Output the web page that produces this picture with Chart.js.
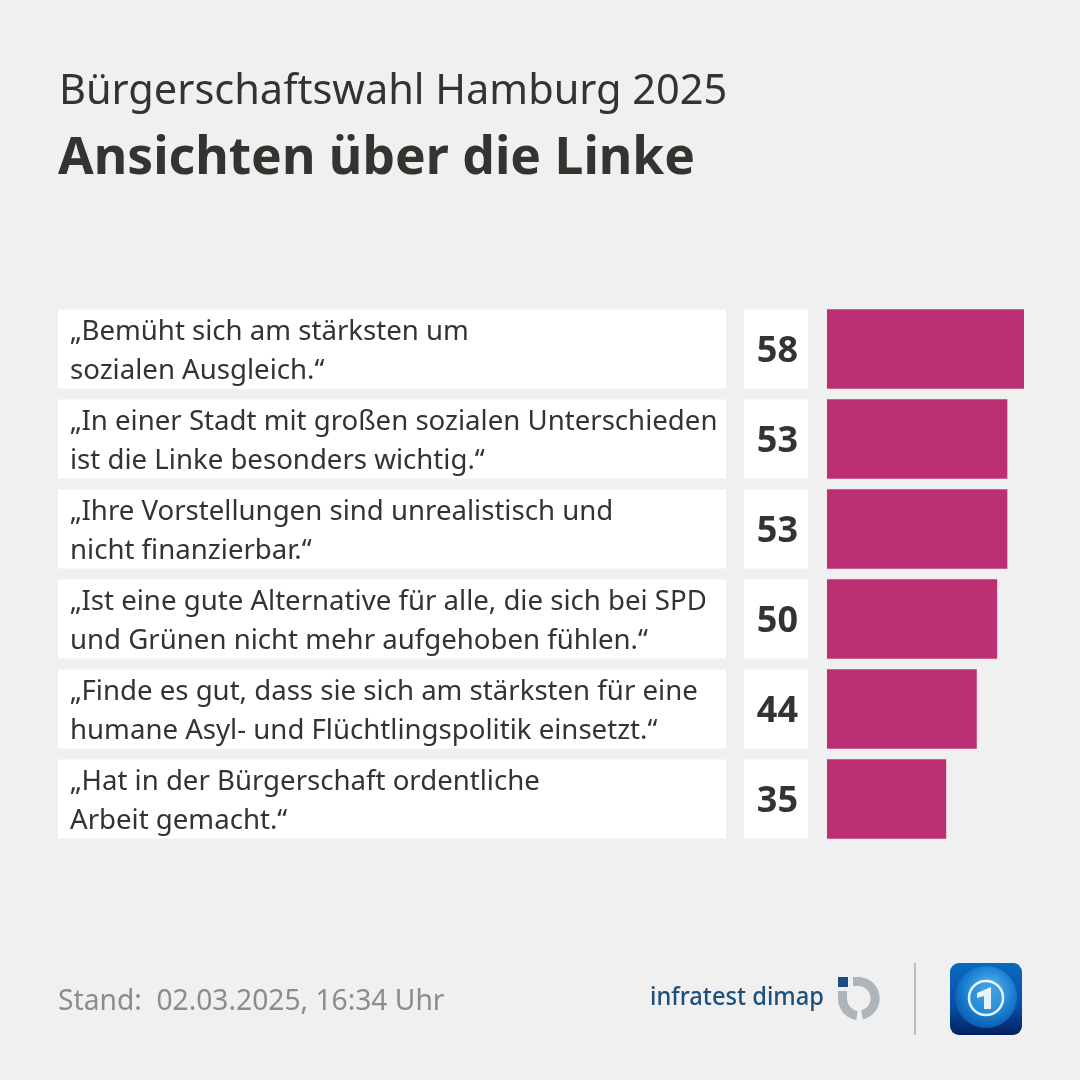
<!DOCTYPE html>
<html lang="de">
<head>
<meta charset="utf-8">
<title>Ansichten über die Linke</title>
<script src="https://cdn.jsdelivr.net/npm/chart.js@4"></script>
<style>
html, body { margin: 0; padding: 0; background: #f0f0f0; }
#page { position: relative; width: 1080px; height: 1080px; overflow: hidden; font-family: "Noto Sans", sans-serif; color: #333330; }
#chart { position: absolute; left: 0; top: 0; }
.txt { position: absolute; white-space: nowrap; line-height: 1; }
#sub { left: 59px; top: 68px; font-size: 41.5px; }
#head { left: 58px; top: 129px; font-size: 51.6px; font-weight: 700; }
#stand { left: 58px; top: 985px; font-size: 28.2px; color: #8c8c8c; }
#logos { position: absolute; left: 0; top: 0; }
</style>
</head>
<body>
<div id="page">
  <canvas id="chart" width="1080" height="1080"></canvas>
  <div class="txt" id="sub">Bürgerschaftswahl Hamburg 2025</div>
  <div class="txt" id="head">Ansichten über die Linke</div>
  <div class="txt" id="stand">Stand:&nbsp; 02.03.2025, 16:34 Uhr</div>
  <svg id="logos" width="1080" height="1080">
    <defs>
      <linearGradient id="tile" x1="0" y1="0" x2="0" y2="1">
        <stop offset="0" stop-color="#0a68c0"/>
        <stop offset="0.6" stop-color="#0650a6"/>
        <stop offset="1" stop-color="#04205e"/>
      </linearGradient>
      <radialGradient id="globe" cx="0.55" cy="0.4" r="0.65">
        <stop offset="0" stop-color="#6cc0f0"/>
        <stop offset="0.6" stop-color="#1a80d0"/>
        <stop offset="1" stop-color="#0a55aa"/>
      </radialGradient>
    </defs>
    <text x="650" y="1005" font-family="Noto Sans" font-size="26" font-weight="500" fill="#1c4f7c" textLength="174" lengthAdjust="spacingAndGlyphs">infratest dimap</text>
    <rect x="838" y="977" width="10" height="10" fill="#174f80"/>
    <path d="M853 981.5 H859.5 A17 17 0 0 1 862 1015" fill="none" stroke="#aeb5ba" stroke-width="9"/>
    <path d="M842.5 991 V998.5 A17 17 0 0 0 857 1015.5" fill="none" stroke="#aeb5ba" stroke-width="9"/>
    <rect x="914" y="963" width="2" height="72" fill="#bdbdbd"/>
    <rect x="950" y="963" width="72" height="72" rx="9" fill="url(#tile)"/>
    <circle cx="986" cy="997" r="31" fill="url(#globe)"/>
    <circle cx="986" cy="998" r="17" fill="#2f8fd8" fill-opacity="0.6" stroke="#e6f4fc" stroke-width="2.5"/>
    <path d="M977 993 L991 987 V1009 H984 V996 L977 998 Z" fill="#e6f4fc"/>
  </svg>
</div>
<script>
var categories = [
	["„Bemüht sich am stärksten um", "sozialen Ausgleich.“"],
	["„In einer Stadt mit großen sozialen Unterschieden", "ist die Linke besonders wichtig.“"],
	["„Ihre Vorstellungen sind unrealistisch und", "nicht finanzierbar.“"],
	["„Ist eine gute Alternative für alle, die sich bei SPD", "und Grünen nicht mehr aufgehoben fühlen.“"],
	["„Finde es gut, dass sie sich am stärksten für eine", "humane Asyl- und Flüchtlingspolitik einsetzt.“"],
	["„Hat in der Bürgerschaft ordentliche", "Arbeit gemacht.“"]
];
var values = [58, 53, 53, 50, 44, 35];

// white boxes go under the axis labels, the numbers on top of them
var rowBoxes = {
	id: 'rowBoxes',
	afterUpdate: function(chart){
		// the statements sit a little below the row centre
		chart.scales.y.getLabelItems().forEach(function(item){
			item.textOffset += 2.5;
		});
	},
	beforeDraw: function(chart){
		var ctx = chart.ctx, y = chart.scales.y;
		ctx.save();
		ctx.fillStyle = '#ffffff';
		values.forEach(function(v, i){
			var top = y.getPixelForValue(i) - 39.5;
			ctx.fillRect(58, top, 668, 79);
			ctx.fillRect(744, top, 64, 79);
		});
		ctx.restore();
	},
	afterDatasetsDraw: function(chart){
		var ctx = chart.ctx, y = chart.scales.y;
		ctx.save();
		ctx.fillStyle = '#333330';
		ctx.font = '700 36px "Noto Sans"';
		ctx.textAlign = 'right';
		ctx.textBaseline = 'middle';
		values.forEach(function(v, i){
			ctx.fillText(String(v), 798, y.getPixelForValue(i) + 3);
		});
		ctx.restore();
	}
};

new Chart(document.getElementById('chart'), {
	type: 'bar',
	data: {
		labels: categories,
		datasets: [{
			data: values,
			backgroundColor: '#bc2f73',
			barThickness: 79
		}]
	},
	plugins: [rowBoxes],
	options: {
		indexAxis: 'y',
		responsive: false,
		animation: false,
		events: [],
		layout: { padding: { left: 70, right: 56, top: 304, bottom: 236 } },
		plugins: { legend: { display: false }, tooltip: { enabled: false } },
		scales: {
			x: { display: false, min: 0, max: 58 },
			y: {
				afterFit: function(scale){ scale.width = 757; },
				grid: { display: false },
				border: { display: false },
				ticks: {
					color: '#333330',
					crossAlign: 'far',
					padding: 0,
					autoSkip: false,
					font: { family: '"Noto Sans"', size: 27.6, lineHeight: 1.413 }
				}
			}
		}
	}
});
</script>
</body>
</html>
